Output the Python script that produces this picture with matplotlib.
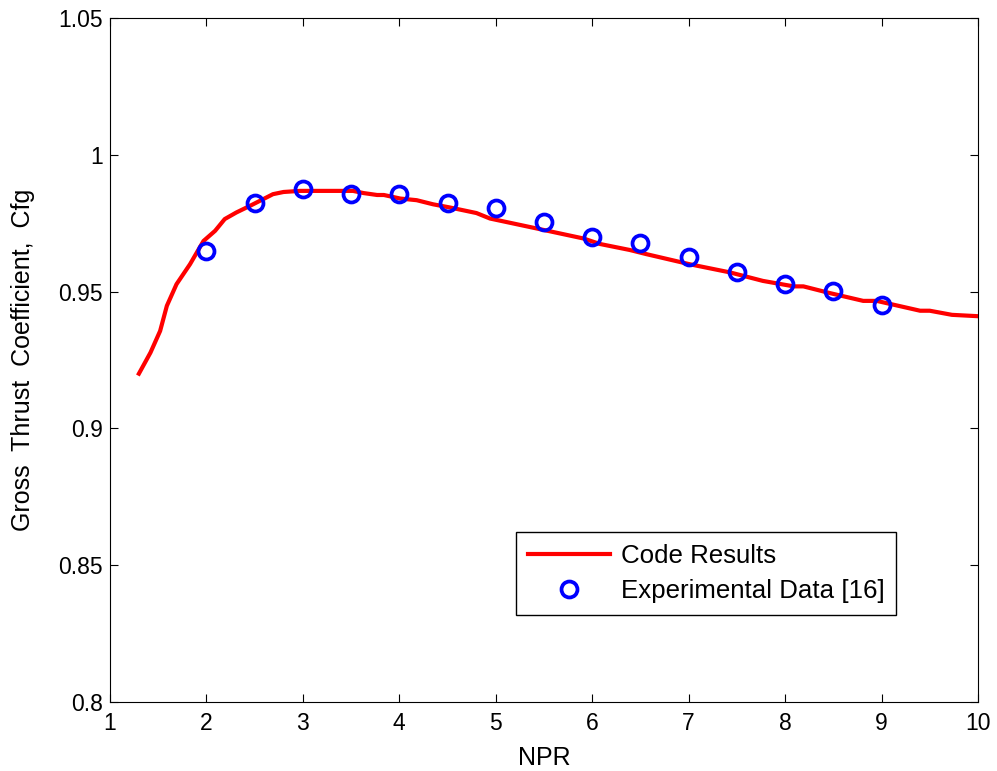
import matplotlib
matplotlib.use('Agg')
import matplotlib.pyplot as plt

plt.rcParams['font.family'] = ['Liberation Sans', 'DejaVu Sans']

# code results (curve)
npr_code = [1.30, 1.42, 1.52, 1.59, 1.69, 1.83, 1.97, 2.09, 2.19, 2.31, 2.45, 2.59,
            2.69, 2.80, 2.97, 3.32, 3.52, 3.63, 3.77, 3.84, 4.01, 4.18, 4.35, 4.53,
            4.80, 4.94, 5.42, 5.91, 6.08, 6.39, 6.56, 7.01, 7.43, 7.77, 8.09, 8.19,
            8.47, 8.81, 8.95, 9.40, 9.50, 9.73, 10.0]
cfg_code = [0.9200, 0.9277, 0.9356, 0.9448, 0.9527, 0.9600, 0.9685, 0.9722, 0.9765,
            0.9789, 0.9813, 0.9838, 0.9856, 0.9864, 0.9868, 0.9868, 0.9868, 0.9860,
            0.9853, 0.9853, 0.9840, 0.9834, 0.9819, 0.9807, 0.9787, 0.9767, 0.9731,
            0.9694, 0.9674, 0.9652, 0.9637, 0.9600, 0.9570, 0.9539, 0.9519, 0.9519,
            0.9494, 0.9466, 0.9466, 0.9430, 0.9430, 0.9415, 0.9410]

# experimental data [16]
npr_exp = [2.0, 2.5, 3.0, 3.5, 4.0, 4.5, 5.0, 5.5, 6.0, 6.5, 7.0, 7.5, 8.0, 8.5, 9.0]
cfg_exp = [0.9650, 0.9825, 0.9876, 0.9855, 0.9855, 0.9825, 0.9805, 0.9753, 0.9701,
           0.9679, 0.9628, 0.9570, 0.9527, 0.9503, 0.9452]

fig = plt.figure(figsize=(9.97, 7.71), dpi=100)
ax = fig.add_axes([0.1103, 0.0895, 0.8706, 0.8872])

ax.plot(npr_code, cfg_code, color='#ff0000', lw=3, label='Code Results')
ax.plot(npr_exp, cfg_exp, 'o', mfc='none', mec='#0000ff', ms=11.5, mew=2.7,
        label='Experimental Data [16]')

ax.set_xlim(1, 10)
ax.set_ylim(0.8, 1.05)
ax.set_xticks(range(1, 11))
ax.set_yticks([0.8, 0.85, 0.9, 0.95, 1.0, 1.05])
ax.set_yticklabels(['0.8', '0.85', '0.9', '0.95', '1', '1.05'])
ax.tick_params(direction='in', top=True, right=True, labelsize=16.5, length=6, pad=5)
ax.tick_params(axis='x', pad=7)
ax.set_xlabel('NPR', fontsize=18, labelpad=8)
ax.set_ylabel('Gross  Thrust  Coefficient,  Cfg', fontsize=18, labelpad=17)

leg = ax.legend(loc='lower left', bbox_to_anchor=(0.4677, 0.127), borderaxespad=0,
                fontsize=18.6, fancybox=False, edgecolor='black', framealpha=1,
                handlelength=3.2, handletextpad=0.4, borderpad=0.45, labelspacing=0.45)
leg.get_frame().set_linewidth(1)

fig.savefig('out.png', dpi=100)
